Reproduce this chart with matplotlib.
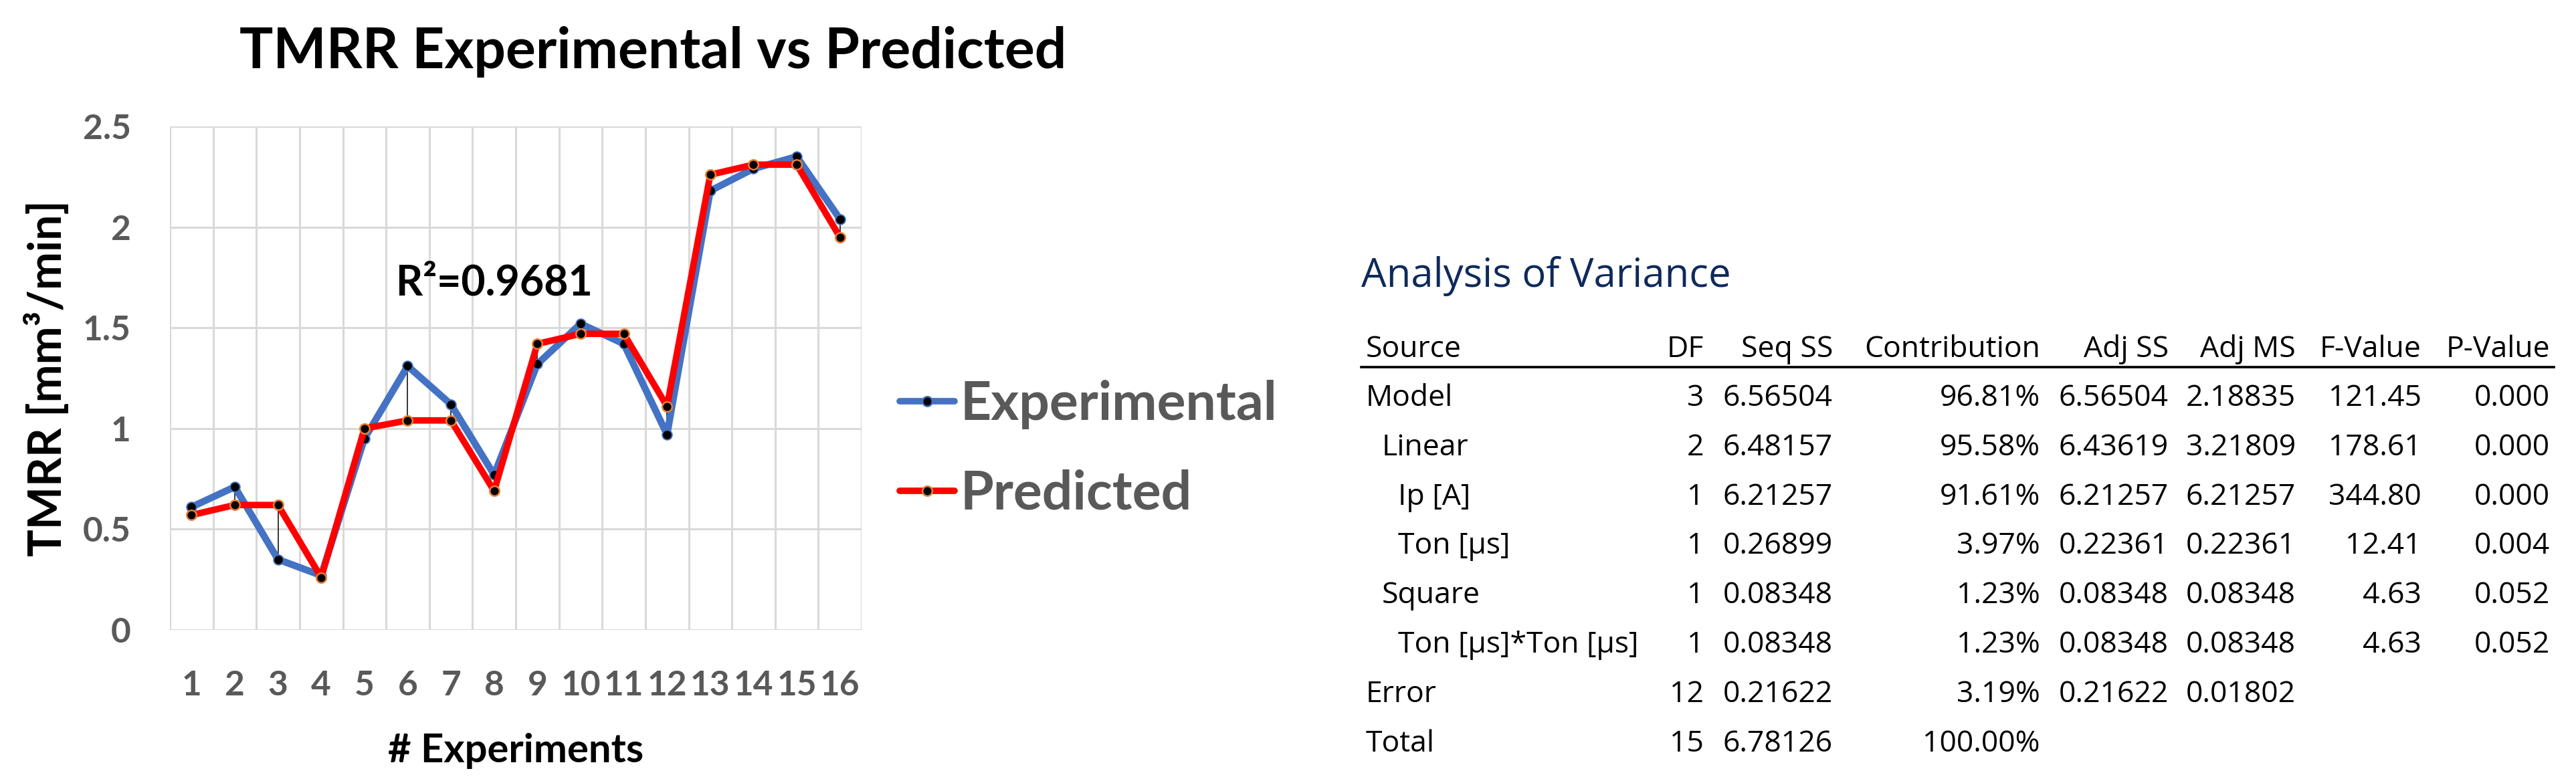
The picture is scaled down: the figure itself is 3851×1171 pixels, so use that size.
import numpy as np
import matplotlib
matplotlib.use('Agg')
import matplotlib.pyplot as plt
from matplotlib.lines import Line2D

# ── 画布：按像素定位 ────────────────────────────────
W, H = 3851, 1171
CHART_FONT = ['Lato', 'DejaVu Sans']
TABLE_FONT = ['Open Sans', 'DejaVu Sans']
GRAY_TXT = '#595959'
GRID = '#D9D9D9'
BLUE = '#4472C4'
RED = '#FF0000'
ORANGE = '#ED7D31'
NAVY = '#0E2A5C'


def fx(px):
    return px / W


def fy(py):
    return 1 - py / H


# ── 数据 ───────────────────────────────────────────
experiments = list(range(1, 17))
experimental = [0.61, 0.71, 0.35, 0.27, 0.95, 1.31, 1.12, 0.77,
                1.32, 1.52, 1.42, 0.97, 2.18, 2.29, 2.35, 2.04]
predicted = [0.57, 0.62, 0.62, 0.26, 1.00, 1.04, 1.04, 0.69,
             1.42, 1.47, 1.47, 1.11, 2.26, 2.31, 2.31, 1.95]
y_ticks = [0, 0.5, 1, 1.5, 2, 2.5]
y_tick_labels = ['0', '0.5', '1', '1.5', '2', '2.5']
r_squared = '0.9681'

headers = ['Source', 'DF', 'Seq SS', 'Contribution', 'Adj SS', 'Adj MS', 'F-Value', 'P-Value']
sources = ['Model', 'Linear', 'Ip [A]', 'Ton [µs]', 'Square', 'Ton [µs]*Ton [µs]', 'Error', 'Total']
levels = [0, 1, 2, 2, 1, 2, 0, 0]
dof = ['3', '2', '1', '1', '1', '1', '12', '15']
seq_ss = ['6.56504', '6.48157', '6.21257', '0.26899', '0.08348', '0.08348', '0.21622', '6.78126']
contribution = ['96.81%', '95.58%', '91.61%', '3.97%', '1.23%', '1.23%', '3.19%', '100.00%']
adj_ss = ['6.56504', '6.43619', '6.21257', '0.22361', '0.08348', '0.08348', '0.21622', '']
adj_ms = ['2.18835', '3.21809', '6.21257', '0.22361', '0.08348', '0.08348', '0.01802', '']
f_value = ['121.45', '178.61', '344.80', '12.41', '4.63', '4.63', '', '']
p_value = ['0.000', '0.000', '0.000', '0.004', '0.052', '0.052', '', '']

fig = plt.figure(figsize=(W / 100, H / 100), dpi=100)
fig.patch.set_facecolor('white')

# ── 折线图 ─────────────────────────────────────────
ax = fig.add_axes([fx(254), fy(942), fx(1288) - fx(254), (942 - 189) / H])
ax.set_xlim(0.5, 16.5)
ax.set_ylim(0, 2.5)

lo = np.minimum(experimental, predicted)
hi = np.maximum(experimental, predicted)
ax.vlines(experiments, lo, hi, color='#262626', lw=1.3, zorder=2)
ax.plot(experiments, experimental, color=BLUE, lw=7.5, marker='o', ms=10.5,
        mfc='black', mec=BLUE, mew=1.4, zorder=3, solid_joinstyle='round')
ax.plot(experiments, predicted, color=RED, lw=7, marker='o', ms=10.5,
        mfc='black', mec=ORANGE, mew=1.8, zorder=4, solid_joinstyle='round')

ax.set_xticks(experiments)
ax.set_xticks(np.arange(0.5, 17, 1), minor=True)
ax.set_xticklabels([str(e) for e in experiments])
ax.set_yticks(y_ticks)
ax.set_yticklabels(y_tick_labels)
ax.grid(which='minor', axis='x', color=GRID, lw=2.2)
ax.grid(which='major', axis='y', color=GRID, lw=2.2)
ax.set_axisbelow(True)
for s in ax.spines.values():
    s.set_visible(False)
ax.tick_params(axis='both', which='both', length=0, labelcolor=GRAY_TXT)
ax.tick_params(axis='y', pad=42)
ax.tick_params(axis='x', pad=43)
for lab in ax.get_xticklabels() + ax.get_yticklabels():
    lab.set_fontfamily(CHART_FONT)
    lab.set_fontweight('bold')
    lab.set_fontsize(37)

fig.text(fx(976), fy(102), 'TMRR Experimental vs Predicted', family=CHART_FONT,
         weight='bold', fontsize=60.5, ha='center', va='baseline', color='black')
fig.text(fx(70), fy(566), 'TMRR [mm³/min]', family=CHART_FONT, weight='bold',
         fontsize=49, rotation=90, ha='center', va='center', color='black')
fig.text(fx(771), fy(1140), '# Experiments', family=CHART_FONT, weight='bold',
         fontsize=43, ha='center', va='baseline', color='black')
fig.text(fx(592), fy(442), f'R²={r_squared}', family=CHART_FONT, weight='bold',
         fontsize=45, ha='left', va='baseline', color='black')

# 图例（画在图外右侧）
for label, color, edge, ly in [('Experimental', BLUE, BLUE, 600), ('Predicted', RED, ORANGE, 734)]:
    fig.add_artist(Line2D([fx(1345), fx(1427)], [fy(ly), fy(ly)], color=color, lw=7,
                          solid_capstyle='round', transform=fig.transFigure))
    fig.add_artist(Line2D([fx(1386)], [fy(ly)], marker='o', ms=10.5, mfc='black', mec=edge,
                          mew=1.8, transform=fig.transFigure))
    fig.text(fx(1436), fy(ly + 28), label, family=CHART_FONT, weight='bold',
             fontsize=58, ha='left', va='baseline', color=GRAY_TXT)

# ── 方差分析表 ─────────────────────────────────────
fig.text(fx(2035), fy(429), 'Analysis of Variance', family=TABLE_FONT,
         fontsize=43, ha='left', va='baseline', color=NAVY)

col_right = [2547, 2740, 3050, 3242, 3432, 3620, 3812]
columns = [dof, seq_ss, contribution, adj_ss, adj_ms, f_value, p_value]
TS = 32
fig.text(fx(2042), fy(534), headers[0], family=TABLE_FONT, fontsize=TS,
         ha='left', va='baseline', color='black')
for xr, h in zip(col_right, headers[1:]):
    fig.text(fx(xr), fy(534), h, family=TABLE_FONT, fontsize=TS,
             ha='right', va='baseline', color='black')
fig.add_artist(Line2D([fx(2035), fx(3818)], [fy(549), fy(549)], color='black',
                      lw=2.6, transform=fig.transFigure))

for i, (src, lvl) in enumerate(zip(sources, levels)):
    yb = 607 + 73.8 * i
    fig.text(fx(2042 + 24 * lvl), fy(yb), src, family=TABLE_FONT, fontsize=TS,
             ha='left', va='baseline', color='black')
    for xr, col in zip(col_right, columns):
        if col[i]:
            fig.text(fx(xr), fy(yb), col[i], family=TABLE_FONT, fontsize=TS,
                     ha='right', va='baseline', color='black')

fig.savefig('out.png', dpi=100, facecolor='white')
